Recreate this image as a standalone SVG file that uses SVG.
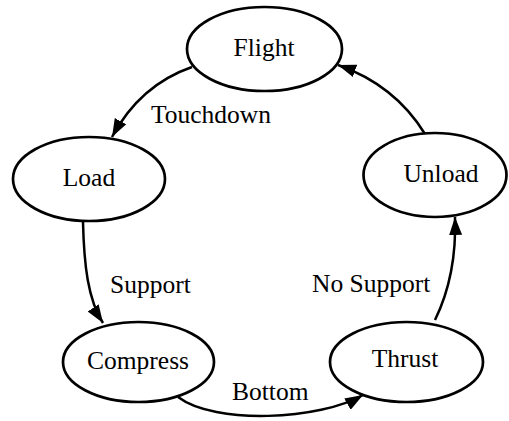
<svg xmlns="http://www.w3.org/2000/svg" width="509" height="421" viewBox="0 0 509 421">
  <style>
    .state ellipse { fill: #fff; stroke: #000; stroke-width: 2.7; }
    .state text, .label { font-family: "Liberation Serif", "Times New Roman", serif; font-size: 25.5px; fill: #000; }
    .state text { text-anchor: middle; }
    .edge { fill: none; stroke: #000; stroke-width: 2.5; marker-end: url(#arrow); }
  </style>
  <defs>
    <marker id="arrow" markerUnits="userSpaceOnUse" markerWidth="19" markerHeight="14" refX="18" refY="7" orient="auto">
      <path d="M0,0.5 L18,7 L0,13.5 z" fill="#000"/>
    </marker>
  </defs>
  <rect width="509" height="421" fill="#fff"/>

  <!-- transitions -->
  <g id="edges">
    <path class="edge" d="M192,67 Q140,85 112,137"/>
    <path class="edge" d="M83,222 C84,265 88,300 103,323"/>
    <path class="edge" d="M178,397 C215,425 320,420 363,395"/>
    <path class="edge" d="M435,320 Q457,275 455,217"/>
    <path class="edge" d="M425,134 Q395,85 338,65"/>
    <text class="label" x="151" y="123">Touchdown</text>
    <text class="label" x="110" y="293">Support</text>
    <text class="label" x="232" y="400">Bottom</text>
    <text class="label" x="312" y="292">No Support</text>
  </g>

  <!-- states -->
  <g id="flight" class="state">
    <ellipse cx="264.5" cy="49" rx="77.5" ry="42"/>
    <text x="264" y="56">Flight</text>
  </g>
  <g id="load" class="state">
    <ellipse cx="89" cy="179" rx="76" ry="42"/>
    <text x="89" y="186">Load</text>
  </g>
  <g id="unload" class="state">
    <ellipse cx="435" cy="175" rx="71.5" ry="42"/>
    <text x="441" y="182">Unload</text>
  </g>
  <g id="compress" class="state">
    <ellipse cx="138.5" cy="362" rx="75.5" ry="40"/>
    <text x="138" y="369">Compress</text>
  </g>
  <g id="thrust" class="state">
    <ellipse cx="406.5" cy="362" rx="76.5" ry="40"/>
    <text x="405" y="367">Thrust</text>
  </g>
</svg>
